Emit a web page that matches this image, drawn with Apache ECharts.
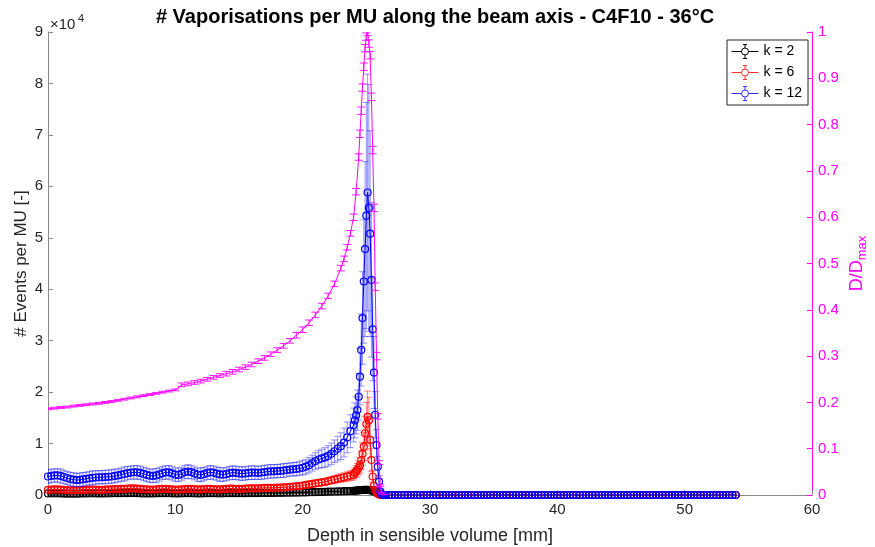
<!DOCTYPE html>
<html><head><meta charset="utf-8">
<script src="https://cdn.jsdelivr.net/npm/echarts@6/dist/echarts.min.js"></script>
<style>html,body{margin:0;padding:0;background:#fff}#c{width:875px;height:547px}</style>
</head><body><div id="c"></div>
<script>
// ---- depth grids (mm) ----
const depthNear = [0,0.25,0.5,0.75,1,1.25,1.5,1.75,2,2.25,2.5,2.75,3,3.25,3.5,3.75,4,4.25,4.5,4.75,
 5,5.25,5.5,5.75,6,6.25,6.5,6.75,7,7.25,7.5,7.75,8,8.25,8.5,8.75,9,9.25,9.5,9.75,
 10,10.25,10.5,10.75,11,11.25,11.5,11.75,12,12.25,12.5,12.75,13,13.25,13.5,13.75,14,14.25,14.5,14.75,
 15,15.25,15.5,15.75,16,16.25,16.5,16.75,17,17.25,17.5,17.75,18,18.25,18.5,18.75,19,19.25,19.5,19.75,
 20,20.25,20.5,20.75,21,21.25,21.5,21.75,22,22.25,22.5,22.75,23,23.25,23.5,23.75,24,
 24.1,24.2,24.3,24.4,24.5,24.6,24.7,24.8,24.9,25,25.1,25.2,25.3,25.4,25.5,25.6,25.7,25.8,25.9,26,26.1,26.2,26.3,26.4];
const depthTail = [26.5,26.75,27,27.25,27.5,27.75,28,28.25,28.5,28.75,29,29.25,29.5,29.75,30,30.25,30.5,30.75,31,31.25,
 31.5,31.75,32,32.25,32.5,32.75,33,33.25,33.5,33.75,34,34.25,34.5,34.75,35,35.25,35.5,35.75,36,36.25,
 36.5,36.75,37,37.25,37.5,37.75,38,38.25,38.5,38.75,39,39.25,39.5,39.75,40,40.25,40.5,40.75,41,41.25,
 41.5,41.75,42,42.25,42.5,42.75,43,43.25,43.5,43.75,44,44.25,44.5,44.75,45,45.25,45.5,45.75,46,46.25,
 46.5,46.75,47,47.25,47.5,47.75,48,48.25,48.5,48.75,49,49.25,49.5,49.75,50,50.25,50.5,50.75,51,51.25,
 51.5,51.75,52,52.25,52.5,52.75,53,53.25,53.5,53.75,54];

// ---- events per MU ----
const k2 = [300,320,330,320,300,280,260,250,250,260,280,300,310,320,320,310,300,300,310,320,
 330,340,350,360,370,380,380,370,350,330,310,300,300,310,330,350,360,360,340,320,
 300,310,330,350,360,350,330,310,310,330,350,360,350,330,320,330,350,360,370,360,
 350,350,360,370,380,380,380,390,400,400,410,410,420,420,430,440,450,460,470,480,
 500,510,530,540,560,580,600,620,640,660,680,700,720,740,760,780,800,
 820,850,880,900,930,950,970,980,990,990,980,960,930,880,800,700,580,450,320,200,100,40,10,0];
const k6 = [1000,1050,1100,1100,1050,1000,950,900,900,900,950,1000,1000,1050,1050,1050,1000,1000,1050,1100,
 1100,1150,1150,1200,1200,1250,1300,1300,1250,1200,1150,1100,1050,1050,1100,1150,1200,1200,1150,1100,
 1050,1050,1100,1150,1200,1200,1150,1100,1100,1150,1200,1200,1150,1100,1100,1150,1200,1250,1250,1200,
 1200,1200,1250,1300,1300,1300,1300,1350,1400,1400,1400,1400,1450,1450,1500,1550,1600,1650,1700,1750,
 1850,1950,2050,2150,2250,2350,2450,2550,2700,2850,3000,3150,3300,3450,3600,3750,3900,
 4300,4600,4900,5300,5800,6800,8000,9400,12000,13800,15200,14500,10700,6800,3600,1800,1000,500,250,100,50,0,0,0];
const k12 = [3600,3700,3800,3800,3700,3500,3300,3100,3000,2900,2950,3050,3150,3250,3350,3400,3450,3450,3500,3550,
 3600,3700,3800,3950,4100,4250,4350,4400,4400,4300,4100,3900,3750,3700,3800,4000,4250,4400,4400,4200,
 3950,3900,4150,4450,4550,4450,4200,3950,3900,4050,4300,4400,4350,4150,4000,3950,4050,4250,4350,4300,
 4200,4150,4200,4300,4350,4350,4300,4350,4450,4550,4600,4600,4650,4700,4750,4850,4950,5000,5050,5150,
 5300,5500,5800,6200,6600,6900,7100,7300,7600,8000,8500,9000,9500,10200,11200,12400,13600,
 14500,15500,16500,19100,23000,28200,34400,41500,47800,54300,58800,55800,50800,41800,32200,23800,15600,9700,5500,2600,650,150,50,0];
const k2Err = [180,180,190,180,170,180,180,190,180,180,180,180,190,180,170,180,180,190,180,180,
 180,180,190,180,170,180,180,190,180,180,180,180,190,180,170,180,180,190,180,180,
 180,180,190,180,170,180,180,190,180,180,180,180,190,180,170,180,180,190,180,180,
 180,180,190,180,170,180,180,190,180,180,180,180,190,180,170,180,180,190,180,180,
 190,190,200,200,210,210,220,220,230,230,240,240,250,250,260,260,260,
 270,280,290,300,300,310,310,320,320,320,320,310,300,290,270,240,200,160,120,80,40,20,10,0];
const k6Err = [450,460,440,450,470,450,440,450,460,450,450,460,440,450,470,450,440,450,460,450,
 450,460,440,450,470,450,440,450,460,450,450,460,440,450,470,450,440,450,460,450,
 450,460,440,450,470,450,440,450,460,450,450,460,440,450,470,450,440,450,460,450,
 450,460,440,450,470,450,440,450,460,450,450,460,440,450,470,450,440,450,460,450,
 480,500,520,540,560,580,600,620,650,680,720,760,800,850,900,950,980,
 1000,1100,1200,1300,1500,1800,2200,2700,3300,4200,5000,4500,3500,2200,1200,700,400,200,100,50,20,0,0,0];
const k12Err = [1300,1320,1280,1300,1350,1300,1260,1300,1320,1300,1300,1320,1280,1300,1350,1300,1260,1300,1320,1300,
 1300,1320,1280,1300,1350,1300,1260,1300,1320,1300,1300,1320,1280,1300,1350,1300,1260,1300,1320,1300,
 1300,1320,1280,1300,1350,1300,1260,1300,1320,1300,1300,1320,1280,1300,1350,1300,1260,1300,1320,1300,
 1300,1320,1280,1300,1350,1300,1260,1300,1320,1300,1300,1320,1280,1300,1350,1300,1260,1300,1320,1300,
 1400,1450,1500,1550,1600,1700,1800,1900,2000,2100,2200,2400,2600,2800,3000,3200,3300,
 3400,3600,3900,4500,5500,7000,9000,12000,17000,22000,23000,24000,20000,15000,10000,7000,4500,3000,2000,1200,500,150,50,0];
const tailCounts = [0,0,0,0,0,0,0,0,0,0,0,0,0,0,0,0,0,0,0,0,0,0,0,0,0,0,0,0,0,0,0,0,0,0,0,0,0,0,0,0,
 0,0,0,0,0,0,0,0,0,0,0,0,0,0,0,0,0,0,0,0,0,0,0,0,0,0,0,0,0,0,0,0,0,0,0,0,0,0,0,0,
 0,0,0,0,0,0,0,0,0,0,0,0,0,0,0,0,0,0,0,0,0,0,0,0,0,0,0,0,0,0,0];

// ---- relative dose D/Dmax ----
const doseDepth = [0,0.5,1,1.5,2,2.5,3,3.5,4,4.5,5,5.5,6,6.5,7,7.5,8,8.5,9,9.5,10,
 10.5,11,11.5,12,12.5,13,13.5,14,14.5,15,15.5,16,16.5,17,17.5,18,18.5,19,19.5,20,20.5,21,21.5,22,22.5,23,
 23.25,23.5,23.75,24,24.2,24.4,
 24.5,24.6,24.7,24.8,24.9,25,25.1,25.2,25.3,25.4,25.5,25.6,25.7,25.8,25.9,26,26.1,26.2,26.3,26.5];
const dose = [0.186,0.1875,0.189,0.190,0.192,0.1935,0.195,0.1965,0.198,0.200,0.202,0.2045,0.207,0.2095,0.212,0.2145,0.217,0.2195,0.222,0.2245,0.227,
 0.238,0.240,0.243,0.246,0.250,0.254,0.258,0.262,0.266,0.271,0.276,0.282,0.289,0.296,0.304,0.313,0.322,0.333,0.345,0.357,0.372,0.389,0.408,0.430,0.456,0.490,
 0.51,0.535,0.565,0.60,0.655,0.73,
 0.78,0.83,0.88,0.925,0.965,0.99,1.0,0.975,0.95,0.86,0.745,0.62,0.45,0.30,0.17,0.07,0.02,0.005,0,0];
const doseErr = [0.002,0.002,0.002,0.002,0.002,0.002,0.002,0.002,0.002,0.002,0.002,0.002,0.002,0.002,0.002,0.002,0.002,0.002,0.002,0.002,0.002,
 0.004,0.004,0.004,0.004,0.004,0.004,0.004,0.005,0.005,0.005,0.005,0.005,0.005,0.005,0.005,0.005,0.005,0.005,0.006,0.006,0.006,0.006,0.006,0.006,0.006,0.006,
 0.006,0.006,0.006,0.007,0.007,0.007,
 0.008,0.008,0.008,0.008,0.008,0.008,0.008,0.008,0.008,0.008,0.008,0.008,0.008,0.008,0.006,0.004,0.002,0.001,0,0];

const seriesNames = ['k = 2', 'k = 6', 'k = 12'];
const titleText = '# Vaporisations per MU along the beam axis - C4F10 - 36°C';

// ---- helpers ----
const FONT = 'Liberation Sans, Arial, Helvetica, sans-serif';
function pts(xs, ys) { return ys.map((y, i) => [xs[i], y]); }
function bars(xs, ys, es) { return ys.map((y, i) => [xs[i], y - es[i], y + es[i]]); }
function errRender(color, cap) {
  return function (params, api) {
    const x = api.value(0), lo = api.value(1), hi = api.value(2);
    const a = api.coord([x, lo]), b = api.coord([x, hi]);
    const st = { stroke: color, lineWidth: 1, fill: null };
    return { type: 'group', children: [
      { type: 'line', shape: { x1: a[0], y1: a[1], x2: b[0], y2: b[1] }, style: st },
      { type: 'line', shape: { x1: a[0] - cap, y1: a[1], x2: a[0] + cap, y2: a[1] }, style: st },
      { type: 'line', shape: { x1: b[0] - cap, y1: b[1], x2: b[0] + cap, y2: b[1] }, style: st }
    ]};
  };
}
function errSeries(data, color, cap, yIdx, z) {
  return { type: 'custom', data: data, renderItem: errRender(color, cap), yAxisIndex: yIdx,
    encode: { x: 0, y: [1, 2] }, z: z, silent: true, clip: true };
}
function lineSeries(name, data, color, lineColor, z) {
  return { name: name, type: 'line', data: data, z: z, silent: true,
    symbol: 'circle', symbolSize: 7, showAllSymbol: true,
    itemStyle: { color: 'rgba(0,0,0,0)', borderColor: color, borderWidth: 1.2 },
    lineStyle: { color: lineColor, width: 1 } };
}
const near = depthNear;
const allDepth = depthNear.concat(depthTail);
const iconPath = 'path://M0,7L10,7M17,7L27,7M13.5,0L13.5,3.5M13.5,10.5L13.5,14M11.5,0L15.5,0M11.5,14L15.5,14M17,7A3.5,3.5,0,1,1,10,7A3.5,3.5,0,1,1,17,7';

const chart = echarts.init(document.getElementById('c'), null, { renderer: 'canvas' });
chart.setOption({
  animation: false,
  backgroundColor: '#fff',
  textStyle: { fontFamily: FONT },
  title: { text: titleText, left: 430, textAlign: 'center', top: 2,
    textStyle: { fontSize: 20, fontWeight: 'bold', color: '#000', fontFamily: FONT } },
  grid: { left: 48, right: 63, top: 32, bottom: 52, containLabel: false, outerBoundsMode: 'none' },
  legend: {
    orient: 'vertical', left: 727, top: 40, padding: [4, 6, 4, 4], itemGap: 6,
    itemWidth: 27, itemHeight: 14, borderColor: '#262626', borderWidth: 1, backgroundColor: '#fff',
    textStyle: { fontSize: 14, color: '#000', fontFamily: FONT },
    selectedMode: false,
    data: [
      { name: seriesNames[0], icon: iconPath, itemStyle: { color: 'rgba(0,0,0,0)', borderColor: '#000', borderWidth: 1 } },
      { name: seriesNames[1], icon: iconPath, itemStyle: { color: 'rgba(0,0,0,0)', borderColor: '#ff3030', borderWidth: 1 } },
      { name: seriesNames[2], icon: iconPath, itemStyle: { color: 'rgba(0,0,0,0)', borderColor: '#3030ff', borderWidth: 1 } }
    ]
  },
  graphic: [
    { type: 'text', left: 50, top: 17, style: { text: '×10', fontSize: 15, fill: '#262626', fontFamily: FONT } },
    { type: 'text', left: 78, top: 13, style: { text: '4', fontSize: 11, fill: '#262626', fontFamily: FONT } }
  ],
  xAxis: {
    type: 'value', min: 0, max: 60, interval: 10,
    name: 'Depth in sensible volume [mm]', nameLocation: 'middle', nameGap: 32, nameMoveOverlap: false,
    nameTextStyle: { fontSize: 18, color: '#262626', fontFamily: FONT },
    axisLine: { show: true, lineStyle: { color: '#8a8a8a', width: 1 } },
    axisTick: { show: true, inside: true, length: 5, lineStyle: { color: '#8a8a8a' } },
    axisLabel: { color: '#262626', fontSize: 15, margin: 7, fontFamily: FONT },
    splitLine: { show: false }
  },
  yAxis: [
    { type: 'value', min: 0, max: 90000, interval: 10000, position: 'left',
      name: '# Events per MU [-]', nameLocation: 'middle', nameGap: 18, nameMoveOverlap: false,
      nameTextStyle: { fontSize: 17, color: '#262626', fontFamily: FONT },
      axisLine: { show: true, lineStyle: { color: '#8a8a8a', width: 1 } },
      axisTick: { show: true, inside: true, length: 5, lineStyle: { color: '#8a8a8a' } },
      axisLabel: { color: '#262626', fontSize: 15, margin: 5, fontFamily: FONT,
        formatter: v => String(Math.round(v / 10000)) },
      splitLine: { show: false } },
    { type: 'value', min: 0, max: 1, interval: 0.1, position: 'right',
      name: '{a|D/D}{b|max}', nameLocation: 'middle', nameGap: 34, nameMoveOverlap: false,
      nameTextStyle: { color: '#ff00ff', fontFamily: FONT,
        rich: { a: { fontSize: 18, color: '#ff00ff', fontFamily: FONT },
                b: { fontSize: 13, color: '#ff00ff', fontFamily: FONT, padding: [10, 0, 0, 0] } } },
      axisLine: { show: true, lineStyle: { color: '#ff00ff', width: 1 } },
      axisTick: { show: true, inside: true, length: 5, lineStyle: { color: '#ff00ff' } },
      axisLabel: { color: '#ff00ff', fontSize: 15, margin: 6, fontFamily: FONT,
        formatter: v => (v === 0 ? '0' : v === 1 ? '1' : v.toFixed(1)) },
      splitLine: { show: false } }
  ],
  series: [
    errSeries(bars(near, k2, k2Err), 'rgba(0,0,0,0.45)', 3.5, 0, 3),
    lineSeries(seriesNames[0], pts(allDepth, k2.concat(tailCounts)), '#000', '#000', 4),
    errSeries(bars(near, k6, k6Err), 'rgba(255,0,0,0.5)', 3.5, 0, 5),
    lineSeries(seriesNames[1], pts(allDepth, k6.concat(tailCounts)), '#ff0000', '#ff0000', 6),
    errSeries(bars(near, k12, k12Err), 'rgba(0,0,255,0.42)', 3.5, 0, 7),
    lineSeries(seriesNames[2], pts(allDepth, k12.concat(tailCounts)), '#0000ff', '#0000ff', 8),
    { name: 'dose', type: 'line', yAxisIndex: 1, data: pts(doseDepth, dose), symbol: 'none', z: 9, silent: true,
      lineStyle: { color: '#ff00ff', width: 1 } },
    errSeries(bars(doseDepth, dose, doseErr), 'rgba(255,0,255,0.9)', 4, 1, 10)
  ]
});
</script>
</body></html>
